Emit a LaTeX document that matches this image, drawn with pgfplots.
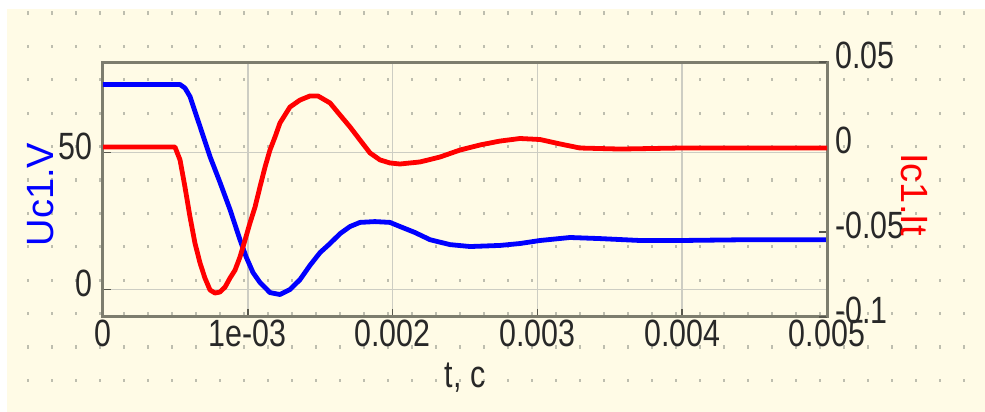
\documentclass[border=0pt]{standalone}
\usepackage{fontspec}
\setmainfont{Liberation Sans}
\newfontfamily\narrowfont{Liberation Sans}[FakeStretch=0.8]
\usepackage{pgfplots}
\pgfplotsset{compat=1.18}
\usepackage{pgfplotstable}
\definecolor{bgcream}{RGB}{255,251,230}
\definecolor{framegray}{RGB}{125,125,110}
\definecolor{gridgray}{RGB}{205,205,195}
\definecolor{dotgray}{RGB}{190,190,175}
\definecolor{ticktext}{RGB}{40,40,40}

\pgfplotstableread{
t v
0 74.8
0.000532 74.8
0.000566 73.5
0.000601 70.4
0.000670 59.5
0.000739 48.5
0.000808 39.1
0.000877 29.2
0.000946 18.2
0.000988 12.0
0.001036 6.2
0.001084 2.6
0.001153 -1.1
0.001222 -1.8
0.001291 0.0
0.001360 3.6
0.001429 8.8
0.001499 13.5
0.001568 16.8
0.001637 20.4
0.001706 23.0
0.001775 24.5
0.001878 24.8
0.001982 24.5
0.002051 23.0
0.002155 20.8
0.002258 18.2
0.002396 16.4
0.002535 15.7
0.002742 16.1
0.002880 16.8
0.003018 17.9
0.003225 19.0
0.003432 18.6
0.003709 17.9
0.003985 17.9
0.004468 18.2
0.005 18.2
}\uctable

\pgfplotstableread{
t i
0 0
0.000497 0
0.000532 -0.0076
0.000566 -0.0235
0.000601 -0.0412
0.000635 -0.0565
0.000670 -0.0682
0.000704 -0.0771
0.000739 -0.0841
0.000773 -0.0859
0.000808 -0.0853
0.000843 -0.0824
0.000877 -0.0771
0.000912 -0.0724
0.000946 -0.0647
0.000981 -0.0547
0.001015 -0.0447
0.001050 -0.0353
0.001084 -0.0235
0.001119 -0.0118
0.001153 -0.0018
0.001188 0.0059
0.001222 0.0141
0.001291 0.0235
0.001360 0.0276
0.001429 0.0300
0.001485 0.0300
0.001568 0.0259
0.001637 0.0188
0.001706 0.0118
0.001775 0.0041
0.001844 -0.0035
0.001913 -0.0076
0.001982 -0.0094
0.002051 -0.0100
0.002189 -0.0088
0.002327 -0.0059
0.002465 -0.0018
0.002604 0.0012
0.002742 0.0035
0.002880 0.0050
0.003018 0.0044
0.003156 0.0018
0.003294 -0.0006
0.003570 -0.0012
0.003985 -0.0006
0.005 -0.0006
}\ictable

\begin{document}
\begin{tikzpicture}
\begin{scope}[x=0.5pt,y=0.5pt]
\fill[white] (0,0) rectangle (985,412);
\fill[bgcream] (7,0) rectangle (985,403);
\foreach \i in {0,...,39} {
  \foreach \j in {0,...,11} {
    \fill[dotgray] ({28+24*\i-0.7},{412-13-33.4*\j-1.6}) rectangle ++(1.4,3.2);
  }
}
\end{scope}

\begin{axis}[
  at={(51.5pt,47.5pt)}, anchor=south west, scale only axis,
  width=362pt, height=127.5pt,
  xmin=0, xmax=0.005, ymin=-10, ymax=83,
  axis line style={framegray, line width=1.5pt},
  xtick={0,0.001,0.002,0.003,0.004,0.005},
  xticklabels={0,1e-03,0.002,0.003,0.004,0.005},
  scaled x ticks=false,
  ytick={0,50}, yticklabels={0,50},
  xtick pos=bottom, ytick pos=left,
  xmajorgrids, ymajorgrids,
  grid style={gridgray, line width=0.8pt},
  tick style={framegray!70!black, line width=0.8pt},
  major tick length=4pt,
  tick align=inside,
  tick label style={font=\narrowfont\fontsize{19}{19}\selectfont, text=ticktext},
  xticklabel style={inner sep=1.5pt},
  yticklabel style={inner sep=5pt, yshift=3pt},
  xlabel={t, c},
  ylabel={Uc1.V},
  every axis x label/.style={at={(axis description cs:0.5,0)}, anchor=center, yshift=-30.5pt, font=\narrowfont\fontsize{19}{19}\selectfont, text=ticktext},
  every axis y label/.style={at={(axis description cs:-0.0856,0.48)}, anchor=center, rotate=90, font=\fontsize{19}{19}\selectfont, text=blue},
]
\addplot[blue, line width=2.4pt, line join=round] table[x=t,y=v] {\uctable};
\end{axis}

\begin{axis}[
  at={(51.5pt,47.5pt)}, anchor=south west, scale only axis,
  width=362pt, height=127.5pt,
  xmin=0, xmax=0.005, ymin=-0.1, ymax=0.05,
  axis x line=none, axis y line*=right,
  axis line style={framegray, line width=1.5pt},
  ytick={-0.1,-0.05,0,0.05}, yticklabels={-0.1,-0.05,0,0.05},
  scaled y ticks=false,
  tick style={framegray!70!black, line width=0.8pt},
  major tick length=4pt,
  tick align=inside,
  tick label style={font=\narrowfont\fontsize{19}{19}\selectfont, text=ticktext},
  yticklabel style={inner sep=4pt, yshift=3.5pt},
  ylabel={Ic1.It},
  every axis y label/.style={at={(axis description cs:1.1202,0.48)}, anchor=center, rotate=-90, font=\fontsize{19}{19}\selectfont, text=red},
]
\addplot[red, line width=2.4pt, line join=round] table[x=t,y=i] {\ictable};
\end{axis}

\pgfresetboundingbox
\path (0,0) rectangle (492.5pt,206pt);
\end{tikzpicture}
\end{document}
